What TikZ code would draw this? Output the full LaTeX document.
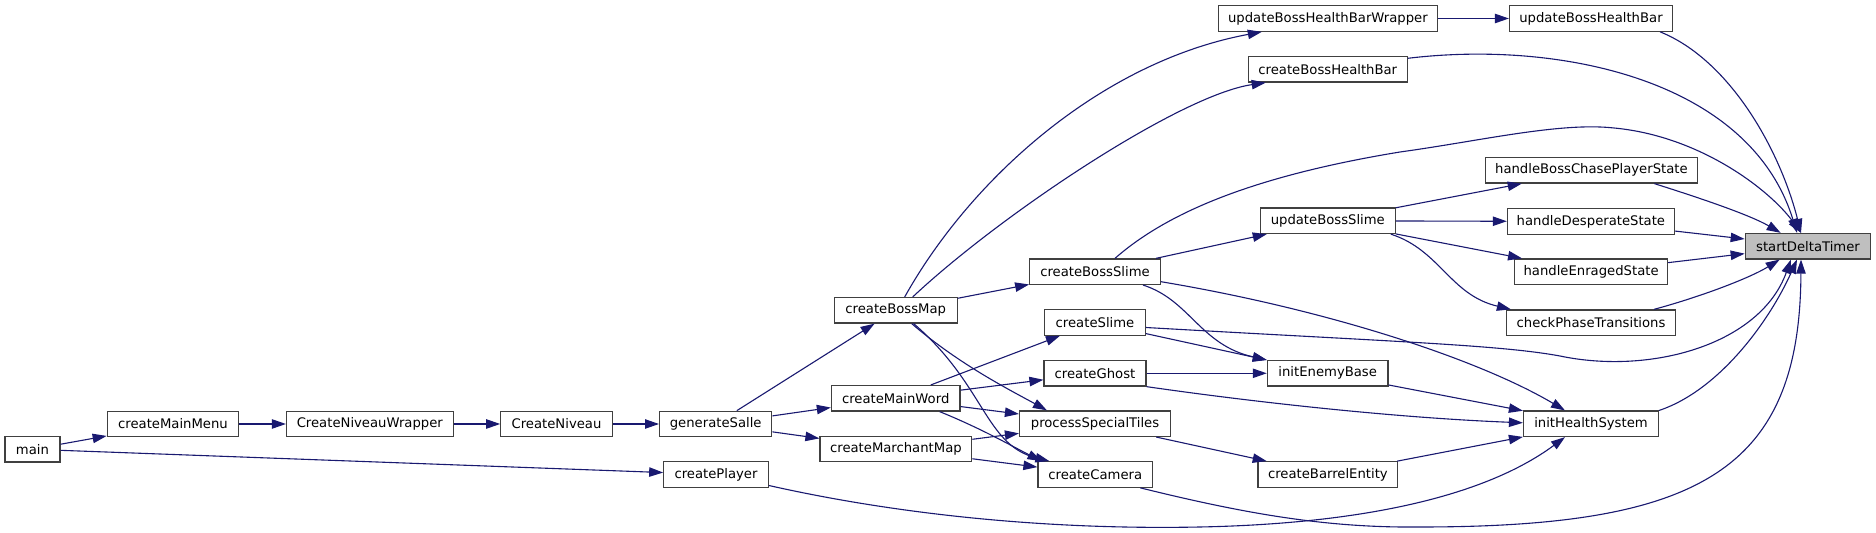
\documentclass[tikz,border=0pt]{standalone}
\usepackage{fontspec}
\setmainfont{DejaVu Sans}
\usetikzlibrary{arrows.meta,calc}
\definecolor{edgec}{HTML}{191970}
\definecolor{nodeb}{HTML}{404040}
\definecolor{hl}{HTML}{BFBFBF}
\tikzset{
 fn/.style={draw=nodeb, line width=0.6pt, fill=white, inner sep=0pt, minimum height=12.75pt, font=\fontsize{6.6pt}{8pt}\selectfont, anchor=center},
 e/.style={draw=edgec, line width=0.55pt, -{Triangle[length=7pt,width=4.7pt]}}
}
\begin{document}
\begin{tikzpicture}[x=0.5pt,y=-0.5pt]
\fill[white] (0,0) rectangle (1876,533);
\useasboundingbox (0,0) rectangle (1876,533);
% nodes
\node[fn,minimum width=27.55pt] (main) at (32.45,449.3) {main};
\node[fn,minimum width=65.75pt] (mm) at (173,424) {createMainMenu};
\node[fn,minimum width=83.3pt] (cnw) at (369.8,424) {CreateNiveauWrapper};
\node[fn,minimum width=55.7pt] (cn) at (556.5,424) {CreateNiveau};
\node[fn,minimum width=56.1pt] (gs) at (715.7,424) {generateSalle};
\node[fn,minimum width=52.25pt] (cp) at (716,474.5) {createPlayer};
\node[fn,minimum width=61.4pt] (bm) at (895.7,310.3) {createBossMap};
\node[fn,minimum width=64.3pt] (cmw) at (895.7,398.3) {createMainWord};
\node[fn,minimum width=75.9pt] (cmm) at (895.9,449) {createMarchantMap};
\node[fn,minimum width=65.3pt] (bs) at (1095,271.7) {createBossSlime};
\node[fn,minimum width=50.2pt] (cs) at (1095,322.5) {createSlime};
\node[fn,minimum width=51pt] (cg) at (1095,373.3) {createGhost};
\node[fn,minimum width=75.5pt] (pst) at (1095,423.7) {processSpecialTiles};
\node[fn,minimum width=57.3pt] (cc) at (1095.3,474.5) {createCamera};
\node[fn,minimum width=109.5pt] (ubhbw) at (1327.9,18.5) {updateBossHealthBarWrapper};
\node[fn,minimum width=79.5pt] (cbhb) at (1327.8,69.3) {createBossHealthBar};
\node[fn,minimum width=67.4pt] (ubs) at (1327.8,220.8) {updateBossSlime};
\node[fn,minimum width=60.35pt] (ieb) at (1327.7,373.3) {initEnemyBase};
\node[fn,minimum width=69.9pt] (cbe) at (1327.9,474.5) {createBarrelEntity};
\node[fn,minimum width=81.5pt] (ubhb) at (1591,18.5) {updateBossHealthBar};
\node[fn,minimum width=106pt] (hbc) at (1591.4,170.3) {handleBossChasePlayerState};
\node[fn,minimum width=83.5pt] (hds) at (1590.9,221.5) {handleDesperateState};
\node[fn,minimum width=76.5pt] (hes) at (1591.1,271.7) {handleEnragedState};
\node[fn,minimum width=84.5pt] (cpt) at (1591,322.7) {checkPhaseTransitions};
\node[fn,minimum width=67.5pt] (ihs) at (1591,423.8) {initHealthSystem};
\node[fn,minimum width=62.75pt,fill=hl] (sdt) at (1808,246.2) {startDeltaTimer};
% edges
\draw[e] (main) -- (mm);
\draw[e] (main) -- (cp);
\draw[e] (mm) -- (cnw);
\draw[e] (cnw) -- (cn);
\draw[e] (cn) -- (gs);
\draw[e] (gs) -- (bm);
\draw[e] (gs) -- (cmw);
\draw[e] (gs) -- (cmm);
\draw[e] ($(bm.north)+(9,0)$) .. controls (970,180) and (1100,62) .. ($(ubhbw.south west)+(44,0)$);
\draw[e] ($(bm.north)+(17,0)$) .. controls (1000,215) and (1180,95) .. ($(cbhb.south west)+(18,0)$);
\draw[e] (bm) -- (bs);
\draw[e] ($(bm.south)+(16,0)$) .. controls (960,365) and (1010,390) .. ($(pst.north west)+(28,0)$);
\draw[e] ($(bm.south)+(18,0)$) .. controls (985,385) and (985,445) .. ($(cc.north west)+(12,0)$);
\draw[e] (cmw) -- (cs);
\draw[e] (cmw) -- (cg);
\draw[e] (cmw) -- (pst);
\draw[e] ($(cmw.south)+(44,0)$) .. controls (980,428) and (1010,445) .. ($(cc.north west)+(4,0)$);
\draw[e] (cmm) -- (pst);
\draw[e] (cmm) -- (cc);
\draw[e] (bs) -- (ubs);
\draw[e] ($(bs.north)+(20,0)$) .. controls (1170,210) and (1260,175) .. (1400,152) .. controls (1480,141) and (1560,122) .. (1614,128) .. controls (1700,136) and (1770,190) .. ($(sdt.north)+(-7,0)$);
\draw[e] ($(bs.east)+(0,10)$) .. controls (1330,310) and (1480,360) .. ($(ihs.north)+(-26,0)$);
\draw[e] ($(bs.south)+(48,0)$) .. controls (1190,300) and (1200,345) .. (ieb.north west);
\draw[e] (cs) -- (ieb);
\draw[e] ($(cs.east)+(0,5)$) .. controls (1400,342) and (1500,345) .. (1560,356) .. controls (1650,375) and (1760,345) .. ($(sdt.south)+(-17,0)$);
\draw[e] (cg) -- (ieb);
\draw[e] (cg.south east) .. controls (1260,403) and (1400,418) .. ($(ihs.west)+(0,-1)$);
\draw[e] (pst) -- (cbe);
\draw[e] ($(cc.south)+(45,0)$) .. controls (1250,515) and (1330,528) .. (1420,527) .. controls (1700,527) and (1800,470) .. ($(sdt.south)+(-7,0)$);
\draw[e] ($(cp.east)+(0,11)$) .. controls (900,515) and (1050,530) .. (1200,527) .. controls (1350,524) and (1480,500) .. ($(ihs.south)+(-26,0)$);
\draw[e] (ieb) -- (ihs);
\draw[e] (cbe) -- (ihs);
\draw[e] (ihs.north east) .. controls (1720,390) and (1770,320) .. ($(sdt.south)+(-11,0)$);
\draw[e] (ubhbw) -- (ubhb);
\draw[e] ($(ubhb.south east)+(-13,0)$) .. controls (1730,60) and (1780,150) .. ($(sdt.north)+(-7,0)$);
\draw[e] ($(cbhb.east)+(0,-11)$) .. controls (1560,40) and (1750,80) .. ($(sdt.north)+(-11,0)$);
\draw[e] (ubs) -- (hbc);
\draw[e] (ubs) -- (hds);
\draw[e] (ubs) -- (hes);
\draw[e] ($(ubs.south east)+(-5,0)$) .. controls (1440,250) and (1450,295) .. ($(cpt.north west)+(5,0)$);
\draw[e] ($(hbc.south)+(63,0)$) .. controls (1700,198) and (1750,215) .. ($(sdt.north west)+(36,0)$);
\draw[e] (hds) -- (sdt);
\draw[e] (hes) -- (sdt);
\draw[e] ($(cpt.north)+(63,0)$) .. controls (1700,297) and (1750,278) .. ($(sdt.south west)+(35,0)$);
\end{tikzpicture}
\end{document}
